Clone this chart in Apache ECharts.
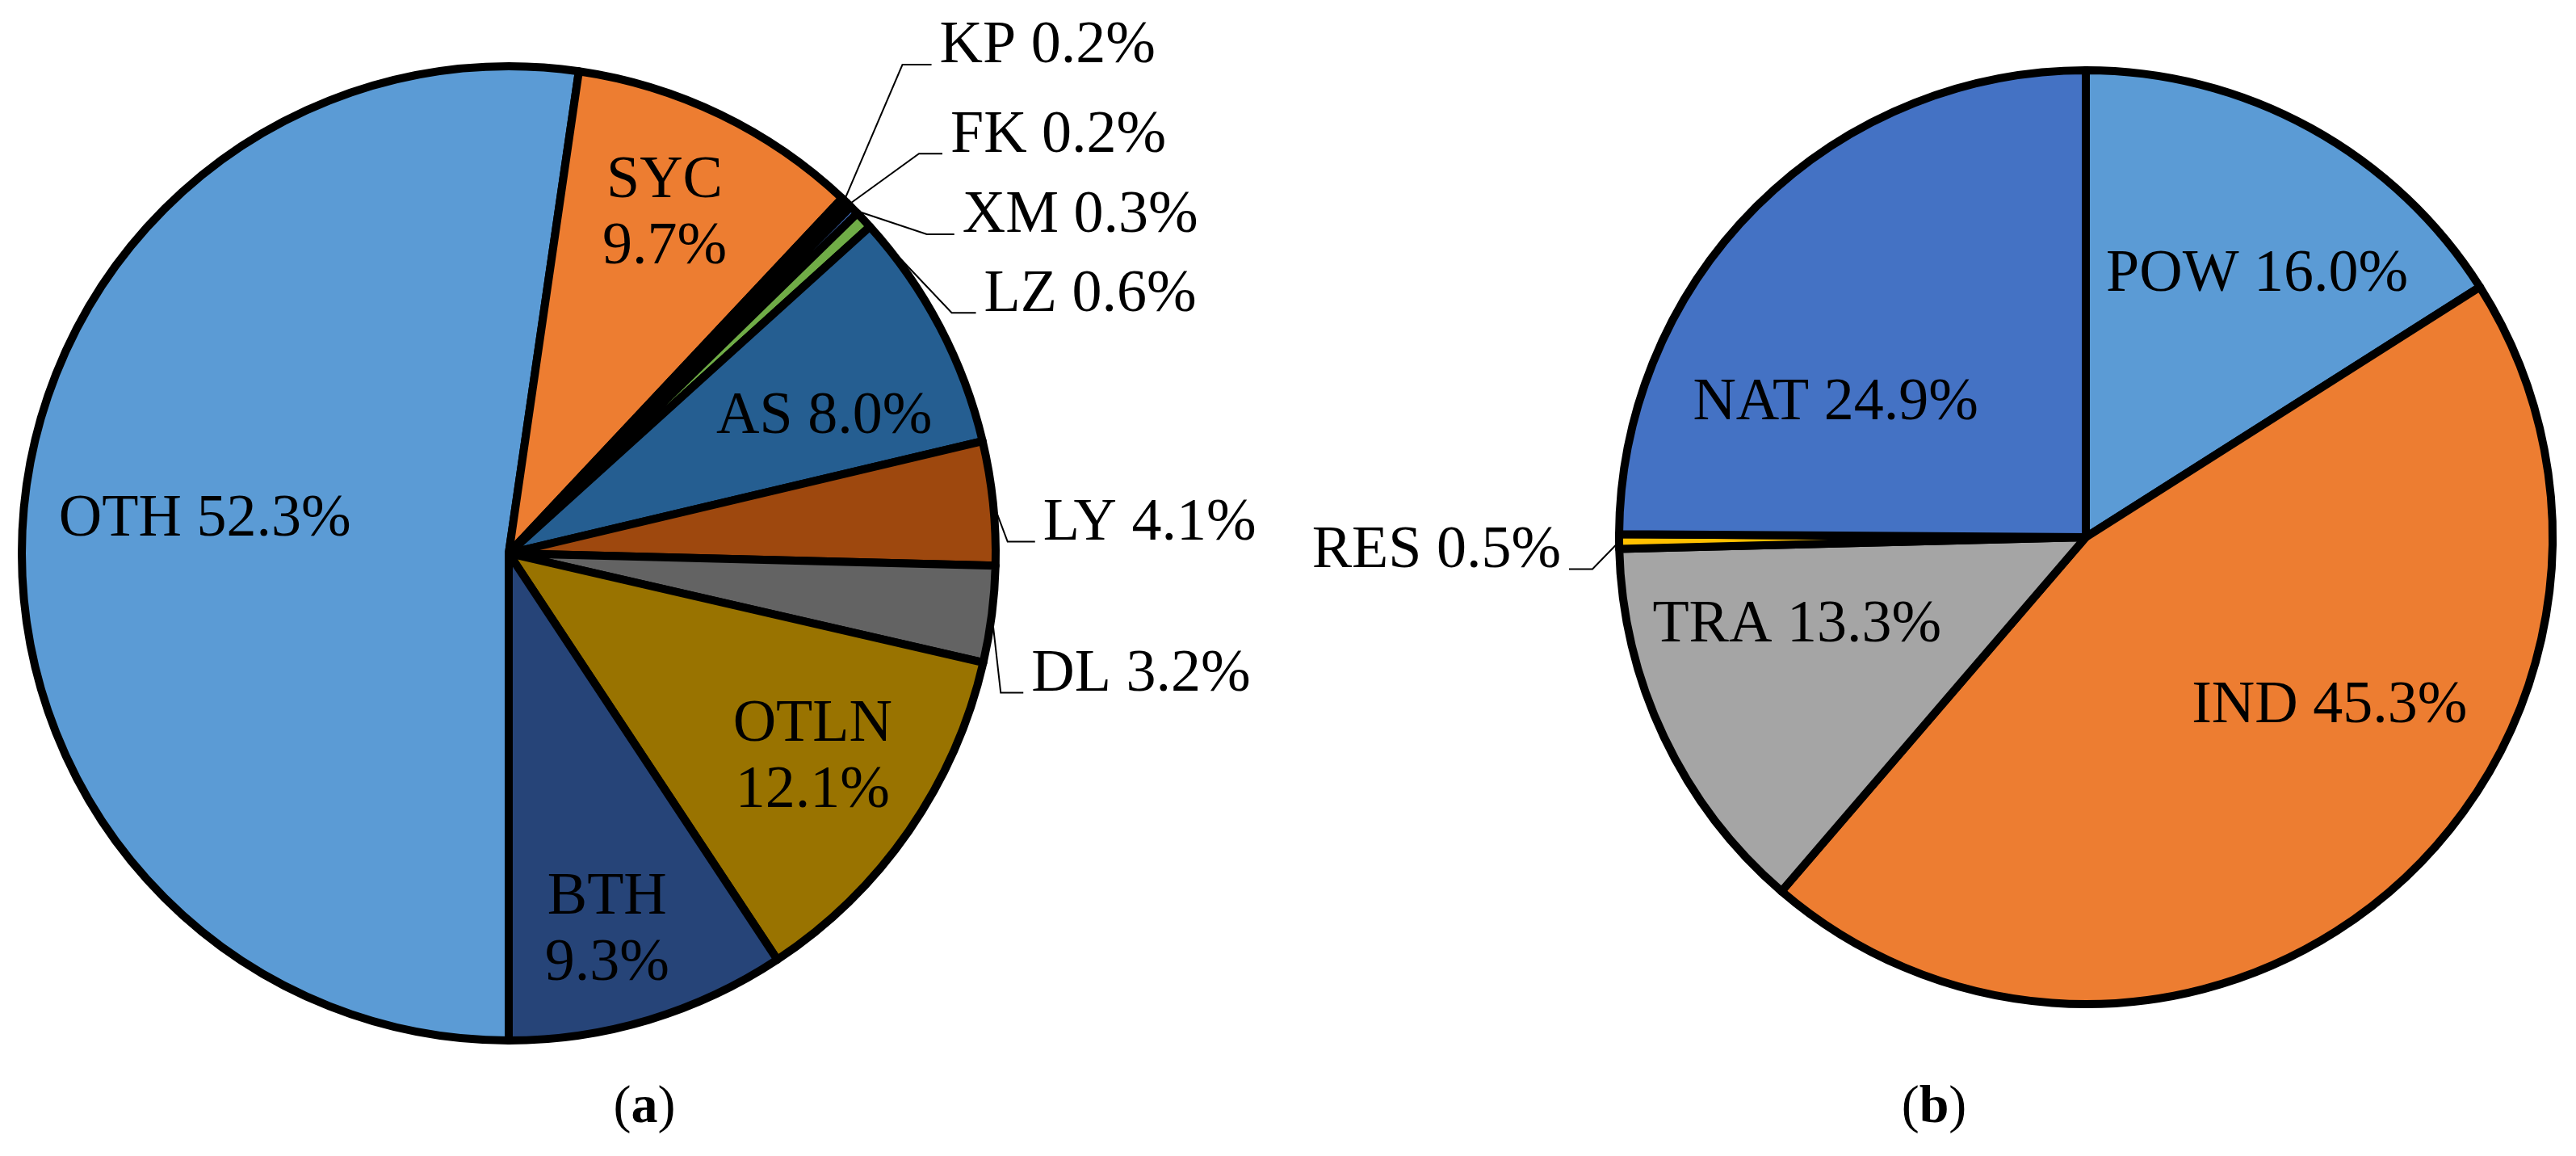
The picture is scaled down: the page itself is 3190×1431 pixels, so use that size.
<!DOCTYPE html>
<html>
<head>
<meta charset="utf-8">
<title>Pie charts (a) and (b)</title>
<script src="https://cdn.jsdelivr.net/npm/echarts@6/dist/echarts.min.js"></script>
<style>
  html, body { margin: 0; padding: 0; background: #fff; }
  #main { width: 3190px; height: 1431px; }
</style>
</head>
<body>
<div id="main"></div>
<script>
  // (a) shares by region
  var regionNames = ['OTH', 'SYC', 'KP', 'FK', 'XM', 'LZ', 'AS', 'LY', 'DL', 'OTLN', 'BTH'];
  var regionShares = [52.3, 9.7, 0.2, 0.2, 0.3, 0.6, 8.0, 4.1, 3.2, 12.1, 9.3];

  // (b) shares by sector
  var sectorNames = ['POW', 'IND', 'TRA', 'RES', 'NAT'];
  var sectorShares = [16.0, 45.3, 13.3, 0.5, 24.9];

  var panelTags = ['a', 'b'];

  // office palette
  var regionColors = ['#5B9BD5', '#ED7D31', '#A5A5A5', '#FFC000', '#4472C4', '#70AD47',
    '#255E91', '#9E480E', '#636363', '#997300', '#264478'];
  var sectorColors = ['#5B9BD5', '#ED7D31', '#A5A5A5', '#FFC000', '#4472C4'];

  var FONT = 'Liberation Serif';
  var FS = 74;

  var pieA = { center: [630, 685], radius: 603, startAngle: 270 };
  var pieB = { center: [2583, 665], radius: 578, startAngle: 90 };

  // inside label spots, offset from centre in radius units
  var spotsA = {
    OTH: [-0.624, -0.068], SYC: [0.320, -0.695], AS: [0.648, -0.280],
    OTLN: [0.624, 0.421], BTH: [0.202, 0.776]
  };
  var spotsB = {
    POW: [0.367, -0.561], NAT: [-0.536, -0.287], TRA: [-0.619, 0.189], IND: [0.522, 0.363]
  };
  // leader lines: elbow dx, elbow dy (from slice edge), horizontal run
  var leadersA = {
    KP: [72, -168, 36], FK: [87, -63, 29], XM: [90, 30, 34],
    LZ: [109, 115, 30], LY: [18, 48, 34], DL: [11, 97, 28]
  };
  var leadersB = { RES: [-33, 34, -29] };
  var twoLine = { SYC: true, OTLN: true, BTH: true };

  function buildData(names, values, colors, spots) {
    return names.map(function (n, i) {
      var inside = !!spots[n];
      return {
        name: n,
        value: values[i],
        itemStyle: { color: colors[i] },
        label: { position: inside ? 'inside' : 'outside' },
        labelLine: { show: !inside }
      };
    });
  }

  function placeLabels(pie, names, spots, leaders) {
    return function (params) {
      var key = names[params.dataIndex];
      if (spots[key]) {
        return {
          x: pie.center[0] + spots[key][0] * pie.radius,
          y: pie.center[1] + spots[key][1] * pie.radius,
          align: 'center',
          verticalAlign: 'middle'
        };
      }
      var lead = leaders[key];
      var p0 = params.labelLinePoints[0];
      var elbow = [p0[0] + lead[0], p0[1] + lead[1]];
      var end = [elbow[0] + lead[2], elbow[1]];
      var toLeft = lead[2] < 0;
      return {
        x: end[0] + (toLeft ? -10 : 10),
        y: end[1] - 22,
        align: toLeft ? 'right' : 'left',
        verticalAlign: 'middle',
        labelLinePoints: [p0, elbow, end]
      };
    };
  }

  function pieSeries(pie, names, values, colors, spots, leaders) {
    return {
      type: 'pie',
      center: pie.center,
      radius: pie.radius,
      startAngle: pie.startAngle,
      clockwise: true,
      avoidLabelOverlap: false,
      silent: true,
      emphasis: { disabled: true },
      itemStyle: { borderColor: '#000', borderWidth: 10, borderJoin: 'round' },
      label: {
        color: '#000',
        fontFamily: FONT,
        fontSize: FS,
        lineHeight: 82,
        formatter: function (p) {
          return p.name + (twoLine[p.name] ? '\n' : ' ') + p.value.toFixed(1) + '%';
        }
      },
      labelLine: { lineStyle: { color: '#000', width: 2 } },
      labelLayout: placeLabels(pie, names, spots, leaders),
      data: buildData(names, values, colors, spots)
    };
  }

  function panelTag(tag, x) {
    return {
      type: 'text',
      x: x,
      y: 1372,
      style: {
        text: '{p|(}{b|' + tag + '}{p|)}',
        align: 'center',
        verticalAlign: 'middle',
        rich: {
          p: { fontFamily: FONT, fontSize: 66, color: '#000' },
          b: { fontFamily: FONT, fontSize: 66, fontWeight: 'bold', color: '#000' }
        }
      }
    };
  }

  var chart = echarts.init(document.getElementById('main'));
  chart.setOption({
    animation: false,
    backgroundColor: '#fff',
    graphic: [panelTag(panelTags[0], 798), panelTag(panelTags[1], 2395)],
    series: [
      pieSeries(pieA, regionNames, regionShares, regionColors, spotsA, leadersA),
      pieSeries(pieB, sectorNames, sectorShares, sectorColors, spotsB, leadersB)
    ]
  });
</script>
</body>
</html>
